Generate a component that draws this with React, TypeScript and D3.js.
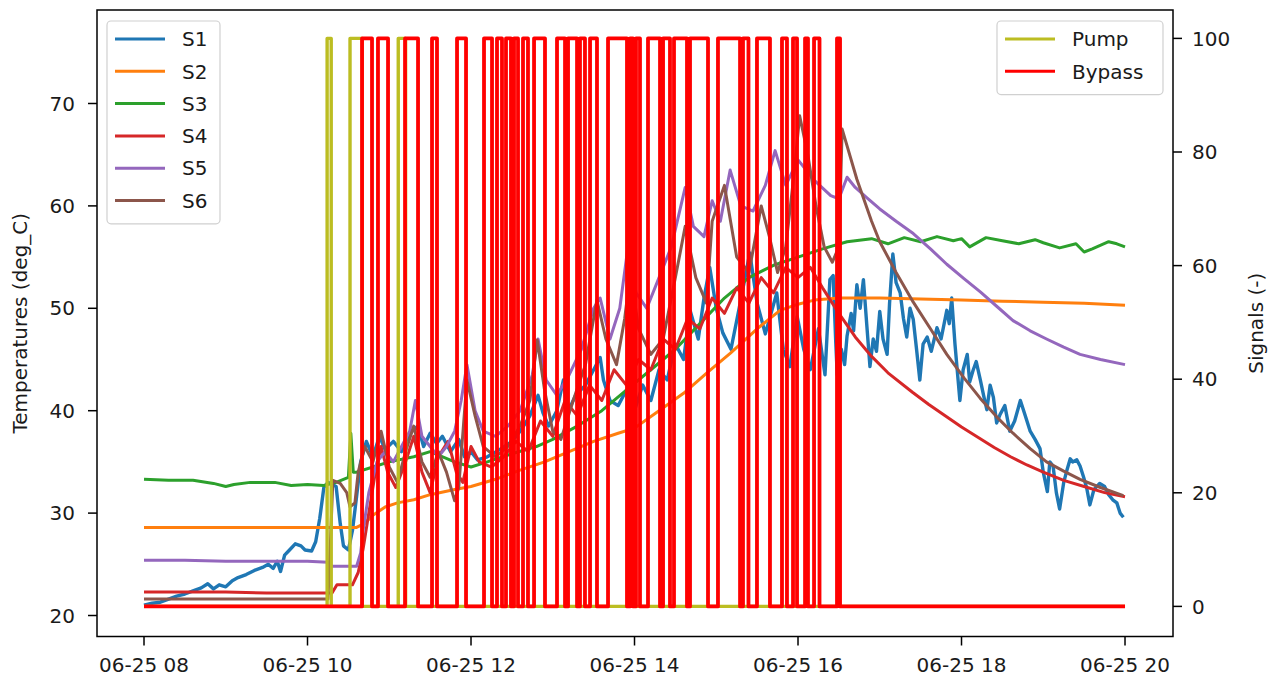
import { useEffect, useRef } from "react";
import * as d3 from "d3";

const width = 1274;
const height = 677;

// [hour of 06-25, deg_C]
const s1: [number, number][] = [
  [8.0, 21.0], [8.1, 21.2], [8.2, 21.3], [8.3, 21.6], [8.4, 21.9], [8.5, 22.1], [8.6, 22.4], [8.7, 22.7],
  [8.78, 23.1], [8.85, 22.6], [8.92, 23.0], [9.0, 22.8], [9.08, 23.4], [9.15, 23.7], [9.25, 24.0], [9.35, 24.4],
  [9.45, 24.7], [9.52, 25.0], [9.58, 24.6], [9.63, 25.3], [9.67, 24.3], [9.72, 25.9], [9.78, 26.4], [9.85, 27.0],
  [9.92, 26.8], [9.97, 26.4], [10.05, 26.3], [10.1, 27.2], [10.15, 29.5], [10.2, 32.5], [10.25, 33.0], [10.35, 32.6],
  [10.4, 29.0], [10.44, 26.8], [10.5, 26.4], [10.55, 28.3], [10.6, 31.6], [10.65, 35.0], [10.72, 37.0], [10.8, 35.5],
  [10.88, 37.5], [10.95, 36.2], [11.05, 37.0], [11.15, 36.0], [11.25, 37.8], [11.35, 38.5], [11.42, 36.5], [11.5, 37.8],
  [11.58, 36.8], [11.65, 37.5], [11.75, 36.0], [11.85, 37.2], [11.92, 35.5], [12.0, 36.0], [12.08, 35.2], [12.2, 35.5],
  [12.35, 36.2], [12.5, 37.0], [12.62, 38.2], [12.72, 39.5], [12.82, 41.5], [12.88, 39.8], [12.95, 38.5], [13.05, 40.0],
  [13.13, 43.0], [13.18, 39.8], [13.28, 41.5], [13.4, 42.5], [13.5, 44.0], [13.58, 45.2], [13.62, 43.0], [13.7, 41.0],
  [13.8, 40.5], [13.9, 42.0], [14.0, 40.0], [14.1, 42.5], [14.2, 41.0], [14.3, 44.0], [14.4, 43.0], [14.5, 46.5],
  [14.6, 45.0], [14.68, 49.8], [14.78, 47.0], [14.85, 51.0], [14.92, 54.0], [15.0, 50.0], [15.08, 47.6], [15.18, 46.0],
  [15.28, 50.0], [15.41, 55.4], [15.5, 50.5], [15.6, 47.5], [15.74, 51.5], [15.82, 46.0], [15.9, 44.3], [15.99, 49.2],
  [16.07, 46.0], [16.15, 44.0], [16.25, 48.0], [16.33, 43.5], [16.39, 52.8], [16.43, 53.2], [16.46, 47.0], [16.48, 43.5],
  [16.53, 46.0], [16.57, 44.5], [16.6, 47.3], [16.65, 49.5], [16.68, 47.8], [16.72, 52.3], [16.76, 50.0], [16.8, 52.8],
  [16.84, 48.5], [16.88, 44.3], [16.92, 47.0], [16.96, 45.8], [17.0, 49.7], [17.04, 47.0], [17.09, 45.5], [17.12, 50.5],
  [17.16, 55.3], [17.2, 52.5], [17.25, 51.5], [17.29, 49.0], [17.33, 47.2], [17.37, 50.0], [17.41, 48.9], [17.45, 46.0],
  [17.49, 43.0], [17.53, 46.5], [17.58, 47.2], [17.63, 45.8], [17.7, 48.1], [17.75, 47.0], [17.82, 49.8], [17.85, 48.5],
  [17.88, 51.0], [17.92, 46.5], [17.98, 41.0], [18.02, 44.0], [18.07, 45.5], [18.1, 42.8], [18.14, 43.9], [18.18, 44.8],
  [18.23, 43.0], [18.27, 41.5], [18.31, 40.1], [18.35, 42.5], [18.39, 41.3], [18.43, 38.8], [18.47, 39.6], [18.53, 40.5],
  [18.59, 38.0], [18.65, 39.0], [18.72, 41.0], [18.78, 39.5], [18.84, 38.0], [18.9, 37.2], [18.96, 36.3], [19.0, 34.0],
  [19.05, 32.1], [19.08, 35.0], [19.12, 34.6], [19.16, 32.0], [19.2, 30.4], [19.25, 33.0], [19.29, 34.2], [19.33, 35.3],
  [19.36, 35.0], [19.41, 35.2], [19.45, 34.6], [19.49, 33.6], [19.53, 32.5], [19.57, 30.8], [19.62, 32.3], [19.69, 32.9],
  [19.75, 32.6], [19.8, 31.8], [19.85, 31.3], [19.9, 31.0], [19.94, 30.0], [19.98, 29.6],
];
const s2: [number, number][] = [
  [8.0, 28.6], [9.0, 28.6], [10.0, 28.6], [10.6, 28.6], [10.7, 29.0], [10.8, 29.8], [10.95, 30.6], [11.1, 31.0],
  [11.3, 31.3], [11.5, 31.8], [11.8, 32.3], [12.0, 32.6], [12.3, 33.3], [12.6, 34.2], [12.9, 35.0], [13.2, 36.0],
  [13.5, 37.0], [13.8, 37.8], [14.0, 38.3], [14.3, 40.0], [14.6, 41.7], [14.9, 43.8], [15.17, 45.6], [15.5, 48.0],
  [15.78, 49.8], [16.0, 50.4], [16.2, 50.8], [16.5, 51.0], [17.0, 51.0], [17.5, 50.9], [18.0, 50.8], [18.5, 50.7],
  [19.0, 50.6], [19.5, 50.5], [20.0, 50.3],
];
const s3: [number, number][] = [
  [8.0, 33.3], [8.3, 33.2], [8.6, 33.2], [8.85, 32.9], [9.0, 32.6], [9.1, 32.8], [9.3, 33.0], [9.6, 33.0],
  [9.8, 32.7], [10.0, 32.8], [10.2, 32.7], [10.35, 33.0], [10.5, 33.5], [10.53, 37.8], [10.56, 34.0], [10.6, 34.0],
  [10.8, 34.5], [11.0, 35.0], [11.3, 35.5], [11.5, 36.0], [11.8, 35.0], [12.0, 34.5], [12.2, 35.0], [12.5, 35.8],
  [12.8, 36.5], [13.0, 37.2], [13.3, 38.5], [13.6, 40.0], [13.9, 42.0], [14.2, 44.0], [14.5, 46.0], [14.8, 48.5],
  [15.1, 51.0], [15.4, 53.0], [15.7, 54.2], [16.0, 55.0], [16.3, 55.8], [16.6, 56.5], [16.9, 56.8], [17.1, 56.3],
  [17.3, 56.9], [17.5, 56.5], [17.7, 57.0], [17.9, 56.6], [18.0, 56.8], [18.1, 56.0], [18.3, 56.9], [18.5, 56.6],
  [18.7, 56.3], [18.9, 56.7], [19.0, 56.4], [19.2, 55.9], [19.4, 56.3], [19.5, 55.5], [19.6, 55.8], [19.8, 56.5],
  [19.9, 56.3], [20.0, 56.0],
];
const s4: [number, number][] = [
  [8.0, 22.3], [9.0, 22.3], [9.5, 22.2], [10.0, 22.2], [10.3, 22.2], [10.36, 23.0], [10.55, 23.0], [10.62, 24.2],
  [10.68, 26.5], [10.75, 30.0], [10.82, 33.5], [10.9, 36.5], [10.98, 34.0], [11.08, 32.5], [11.2, 35.0], [11.3, 37.5],
  [11.4, 34.0], [11.5, 32.0], [11.6, 35.5], [11.72, 37.0], [11.82, 34.0], [11.9, 33.0], [12.0, 36.5], [12.1, 35.0],
  [12.25, 34.5], [12.4, 35.5], [12.55, 37.0], [12.7, 36.0], [12.85, 39.0], [13.0, 37.5], [13.15, 41.0], [13.3, 39.5],
  [13.45, 42.5], [13.6, 41.0], [13.75, 44.0], [13.9, 42.5], [14.05, 45.0], [14.2, 44.0], [14.35, 47.0], [14.5, 46.0],
  [14.65, 49.0], [14.8, 48.0], [14.95, 51.0], [15.1, 49.5], [15.25, 52.0], [15.4, 50.5], [15.55, 53.0], [15.7, 51.5],
  [15.85, 54.0], [16.0, 53.0], [16.15, 54.0], [16.3, 52.0], [16.5, 49.5], [16.7, 47.2], [16.9, 45.3], [17.1, 43.7],
  [17.4, 41.8], [17.6, 40.6], [17.8, 39.5], [18.0, 38.4], [18.2, 37.4], [18.4, 36.4], [18.6, 35.5], [18.8, 34.7],
  [19.0, 34.0], [19.25, 33.2], [19.5, 32.6], [19.75, 32.0], [20.0, 31.6],
];
const s5: [number, number][] = [
  [8.0, 25.4], [8.5, 25.4], [9.0, 25.3], [9.5, 25.3], [10.0, 25.3], [10.25, 25.2], [10.3, 24.8], [10.6, 24.8],
  [10.65, 26.1], [10.68, 28.3], [10.75, 32.0], [10.85, 35.0], [10.95, 36.0], [11.05, 35.0], [11.15, 36.5], [11.25, 38.0],
  [11.32, 41.0], [11.4, 37.5], [11.5, 36.5], [11.6, 35.5], [11.7, 36.5], [11.8, 38.0], [11.88, 41.0], [11.95, 44.5],
  [12.05, 40.0], [12.15, 38.0], [12.3, 37.5], [12.45, 38.5], [12.6, 40.0], [12.75, 43.5], [12.82, 47.0], [12.92, 43.0],
  [13.05, 41.5], [13.2, 43.5], [13.35, 46.0], [13.5, 50.0], [13.58, 51.0], [13.7, 47.0], [13.82, 50.0], [13.92, 56.0],
  [14.02, 51.5], [14.15, 50.0], [14.3, 53.0], [14.45, 56.0], [14.62, 61.8], [14.72, 58.0], [14.85, 57.0], [14.95, 60.5],
  [15.05, 58.5], [15.17, 63.5], [15.3, 60.0], [15.45, 59.5], [15.6, 62.0], [15.72, 65.4], [15.85, 62.0], [16.0, 64.5],
  [16.2, 62.5], [16.4, 61.0], [16.5, 60.7], [16.6, 62.8], [16.7, 61.8], [16.84, 60.8], [17.0, 59.7], [17.2, 58.5],
  [17.41, 57.3], [17.62, 55.8], [17.82, 54.3], [18.03, 52.9], [18.23, 51.6], [18.43, 50.2], [18.63, 48.8], [18.84, 47.8],
  [19.04, 47.0], [19.25, 46.2], [19.45, 45.5], [19.7, 45.0], [20.0, 44.5],
];
const s6: [number, number][] = [
  [8.0, 21.6], [9.0, 21.6], [10.0, 21.6], [10.25, 21.6], [10.28, 27.0], [10.31, 33.2], [10.4, 32.9], [10.48, 32.0],
  [10.52, 30.6], [10.58, 31.0], [10.62, 34.0], [10.7, 36.5], [10.8, 35.0], [10.9, 38.0], [11.0, 34.5], [11.1, 33.0],
  [11.2, 36.0], [11.3, 38.5], [11.4, 35.0], [11.5, 33.5], [11.6, 36.0], [11.7, 34.0], [11.8, 31.2], [11.85, 32.5],
  [11.95, 43.0], [12.05, 39.5], [12.15, 36.5], [12.3, 35.5], [12.45, 36.5], [12.6, 38.5], [12.72, 41.0], [12.81, 46.9],
  [12.9, 42.0], [13.0, 38.0], [13.1, 37.2], [13.25, 41.0], [13.4, 44.5], [13.54, 50.8], [13.65, 47.0], [13.78, 44.5],
  [13.88, 49.0], [13.95, 53.5], [14.05, 48.0], [14.2, 45.5], [14.35, 47.0], [14.5, 53.0], [14.62, 58.0], [14.75, 53.0],
  [14.88, 50.5], [14.95, 58.5], [15.1, 62.0], [15.25, 55.0], [15.4, 53.5], [15.55, 60.0], [15.65, 57.0], [15.75, 53.5],
  [15.85, 56.0], [15.95, 63.0], [16.02, 68.8], [16.12, 65.0], [16.22, 60.0], [16.32, 56.0], [16.42, 54.5], [16.5, 56.0],
  [16.54, 67.5], [16.72, 62.6], [16.9, 58.5], [17.0, 56.5], [17.2, 53.5], [17.41, 50.6], [17.62, 48.0], [17.82, 45.5],
  [18.03, 43.2], [18.23, 41.2], [18.43, 39.4], [18.63, 37.8], [18.84, 36.3], [19.04, 35.0], [19.25, 34.1], [19.45, 33.3],
  [19.7, 32.5], [19.98, 31.7],
];

// signal on-periods [start hour, end hour], value 100 while on, 0 otherwise
const pumpOn: [number, number][] = [
  [10.24, 10.29], [10.52, 10.67], [11.11, 11.2],
];
const bypassOn: [number, number][] = [
  [10.667, 10.789], [10.862, 10.985], [11.193, 11.352], [11.523, 11.584], [11.829, 11.939], [12.159, 12.257],
  [12.318, 12.379], [12.428, 12.489], [12.526, 12.575], [12.636, 12.697], [12.771, 12.905], [13.052, 13.15],
  [13.187, 13.297], [13.333, 13.394], [13.456, 13.541], [13.676, 13.908], [13.945, 13.982], [14.018, 14.067],
  [14.165, 14.312], [14.349, 14.434], [14.483, 14.642], [14.679, 14.899], [15.021, 15.291], [15.327, 15.394],
  [15.498, 15.657], [15.804, 15.865], [15.939, 15.988], [16.086, 16.122], [16.196, 16.263], [16.477, 16.514],
];

const seriesNames = ["S1", "S2", "S3", "S4", "S5", "S6"];
const seriesColors = ["#1f77b4", "#ff7f0e", "#2ca02c", "#d62728", "#9467bd", "#8c564b"];
const signalNames = ["Pump", "Bypass"];
const signalColors = ["#bcbd22", "#ff0000"];
const tempTicks = [20, 30, 40, 50, 60, 70];
const signalTicks = [0, 20, 40, 60, 80, 100];
const hourTicks = [8, 10, 12, 14, 16, 18, 20];
const tStart = 8;
const tEnd = 20;

const toDate = (h: number) => new Date(2019, 5, 25, 0, 0, 0, Math.round(h * 3600000));

const stepPoints = (on: [number, number][]): [number, number][] => {
  const pts: [number, number][] = [[tStart, 0]];
  on.forEach(([a, b]) => {
    pts.push([a, 0], [a, 100], [b, 100], [b, 0]);
  });
  pts.push([tEnd, 0]);
  return pts;
};

export default function App() {
  const svgRef = useRef<SVGSVGElement | null>(null);

  useEffect(() => {
    const svg = d3.select(svgRef.current);
    svg.selectAll("*").remove();

    const left = 97, right = 1173, top = 10, bottom = 636.5;
    const font = "DejaVu Sans";
    const fs = 20;
    const ink = "#1a1a1a";

    const x = d3.scaleTime().domain([toDate(7.425), toDate(20.587)]).range([left, right]);
    const yT = d3.scaleLinear().domain([17.95, 79.13]).range([bottom, top]);
    const yS = d3.scaleLinear().domain([-5.3, 105]).range([bottom, top]);

    svg.append("rect").attr("width", width).attr("height", height).attr("fill", "#fff");

    const plot = svg.append("g");

    const tempLine = d3.line<[number, number]>()
      .x((d) => x(toDate(d[0])))
      .y((d) => yT(d[1]));
    const sigLine = d3.line<[number, number]>()
      .x((d) => x(toDate(d[0])))
      .y((d) => yS(d[1]));

    [s1, s2, s3, s4, s5, s6].forEach((s, i) => {
      plot.append("path")
        .attr("d", tempLine(s))
        .attr("fill", "none")
        .attr("stroke", seriesColors[i])
        .attr("stroke-width", i === 0 ? 3.4 : 3)
        .attr("stroke-linejoin", "round");
    });

    [pumpOn, bypassOn].forEach((on, i) => {
      plot.append("path")
        .attr("d", sigLine(stepPoints(on)))
        .attr("fill", "none")
        .attr("stroke", signalColors[i])
        .attr("stroke-width", i === 0 ? 3.4 : 3.8)
        .attr("stroke-linejoin", "round");
    });

    // frame
    svg.append("rect")
      .attr("x", left).attr("y", top)
      .attr("width", right - left).attr("height", bottom - top)
      .attr("fill", "none").attr("stroke", "#000").attr("stroke-width", 1.5);

    const tickLen = 9;

    // left axis
    const gl = svg.append("g");
    tempTicks.forEach((t) => {
      gl.append("line").attr("x1", left - tickLen).attr("x2", left)
        .attr("y1", yT(t)).attr("y2", yT(t)).attr("stroke", "#000").attr("stroke-width", 1.5);
      gl.append("text").attr("x", left - 22).attr("y", yT(t)).attr("dy", "0.36em")
        .attr("text-anchor", "end").attr("font-family", font).attr("font-size", fs)
        .attr("fill", ink).text(String(t));
    });

    // right axis
    const gr = svg.append("g");
    signalTicks.forEach((t) => {
      gr.append("line").attr("x1", right).attr("x2", right + tickLen)
        .attr("y1", yS(t)).attr("y2", yS(t)).attr("stroke", "#000").attr("stroke-width", 1.5);
      gr.append("text").attr("x", right + 19).attr("y", yS(t)).attr("dy", "0.36em")
        .attr("text-anchor", "start").attr("font-family", font).attr("font-size", fs)
        .attr("fill", ink).text(String(t));
    });

    // bottom axis
    const fmt = d3.timeFormat("%m-%d %H");
    const gb = svg.append("g");
    hourTicks.forEach((h) => {
      const px = x(toDate(h));
      gb.append("line").attr("x1", px).attr("x2", px)
        .attr("y1", bottom).attr("y2", bottom + tickLen).attr("stroke", "#000").attr("stroke-width", 1.5);
      gb.append("text").attr("x", px).attr("y", 672)
        .attr("text-anchor", "middle").attr("font-family", font).attr("font-size", fs)
        .attr("fill", ink).text(fmt(toDate(h)));
    });

    // axis labels
    svg.append("text")
      .attr("transform", `translate(27,${(top + bottom) / 2}) rotate(-90)`)
      .attr("text-anchor", "middle").attr("font-family", font).attr("font-size", fs)
      .attr("fill", ink).text("Temperatures (deg_C)");
    svg.append("text")
      .attr("transform", `translate(1263,${(top + bottom) / 2}) rotate(-90)`)
      .attr("text-anchor", "middle").attr("font-family", font).attr("font-size", fs)
      .attr("fill", ink).text("Signals (-)");

    // legends
    const legend = (x0: number, y0: number, w: number, names: string[], colors: string[]) => {
      const rowH = 32.3;
      const g = svg.append("g");
      g.append("rect")
        .attr("x", x0).attr("y", y0).attr("width", w).attr("height", names.length * rowH + 9)
        .attr("rx", 4).attr("fill", "#fff").attr("fill-opacity", 0.8)
        .attr("stroke", "#d0d0d0").attr("stroke-width", 1.2);
      names.forEach((n, i) => {
        const cy = y0 + 18 + i * rowH;
        g.append("line").attr("x1", x0 + 8).attr("x2", x0 + 58)
          .attr("y1", cy).attr("y2", cy).attr("stroke", colors[i]).attr("stroke-width", 3);
        g.append("text").attr("x", x0 + 75).attr("y", cy).attr("dy", "0.36em")
          .attr("font-family", font).attr("font-size", fs).attr("fill", ink).text(n);
      });
    };
    legend(107, 21, 113, seriesNames, seriesColors);
    legend(997, 21, 166, signalNames, signalColors);
  }, []);

  return (
    <svg
      ref={svgRef}
      width={width}
      height={height}
      style={{ position: "fixed", left: 0, top: 0, display: "block" }}
    />
  );
}
